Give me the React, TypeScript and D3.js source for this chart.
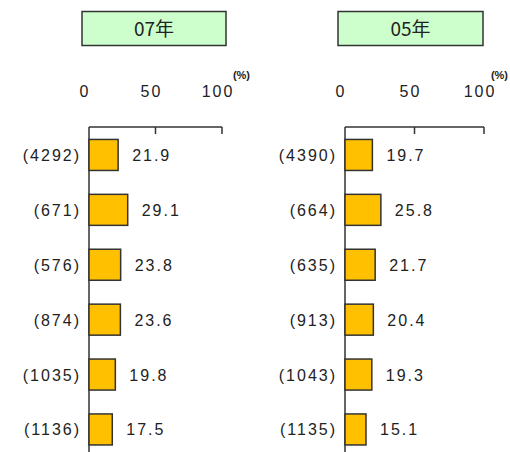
import React from "react";
import * as d3 from "d3";

const panelTitles = ["07年", "05年"];
const categories07 = ["(4292)", "(671)", "(576)", "(874)", "(1035)", "(1136)"];
const values07 = [21.9, 29.1, 23.8, 23.6, 19.8, 17.5];
const categories05 = ["(4390)", "(664)", "(635)", "(913)", "(1043)", "(1135)"];
const values05 = [19.7, 25.8, 21.7, 20.4, 19.3, 15.1];
const tickValues = [0, 50, 100];
const unitLabel = "(%)";

const W = 510;
const H = 452;
const FONT = "'Liberation Sans', Arial, sans-serif";
const INK = "#222";

type PanelProps = {
  title: string;
  cats: string[];
  vals: number[];
  x0: number;
  x1: number;
  boxX0: number;
  boxX1: number;
};

function Panel({ title, cats, vals, x0, x1, boxX0, boxX1 }: PanelProps) {
  const x = d3.scaleLinear().domain([0, 100]).range([x0, x1]);
  const y = d3
    .scaleBand<number>()
    .domain(d3.range(cats.length))
    .range([127.5, 456.9])
    .paddingInner(0.435)
    .paddingOuter(0.2175);
  const axisY = 127;
  return (
    <g>
      <rect
        x={boxX0}
        y={11.5}
        width={boxX1 - boxX0}
        height={34}
        fill="#ccffcc"
        stroke="#333"
        strokeWidth={1.5}
      />
      <text
        x={(boxX0 + boxX1) / 2}
        y={36}
        textAnchor="middle"
        fontFamily="'Noto Sans CJK JP', sans-serif"
        fontSize={19}
        fill={INK}
      >
        {title}
      </text>
      {tickValues.map((t) => (
        <text
          key={t}
          x={x(t) - 4}
          y={97}
          textAnchor="middle"
          fontFamily={FONT}
          fontSize={16}
          letterSpacing={2}
          fill={INK}
        >
          {t}
        </text>
      ))}
      <text
        x={Math.min(x(100) + 28, W - 2)}
        y={79}
        textAnchor="end"
        fontFamily={FONT}
        fontSize={11}
        fontWeight="bold"
        fill={INK}
      >
        {unitLabel}
      </text>
      <line x1={x(0)} x2={x(100)} y1={axisY} y2={axisY} stroke="#333" strokeWidth={1.5} />
      {tickValues.slice(1).map((t) => (
        <line key={t} x1={x(t)} x2={x(t)} y1={axisY} y2={axisY + 7} stroke="#333" strokeWidth={1.5} />
      ))}
      <line x1={x(0)} x2={x(0)} y1={axisY} y2={H} stroke="#333" strokeWidth={1.5} />
      {vals.map((v, i) => {
        const by = y(i) as number;
        const bh = y.bandwidth();
        return (
          <g key={i}>
            <rect
              x={x(0)}
              y={by}
              width={x(v) - x(0)}
              height={bh}
              fill="#ffc000"
              stroke="#333"
              strokeWidth={1.5}
            />
            <text
              x={x(v) + 14}
              y={by + bh / 2 + 6}
              fontFamily={FONT}
              fontSize={16}
              letterSpacing={2}
              fill={INK}
            >
              {v.toFixed(1)}
            </text>
            <text
              x={x(0) - 8}
              y={by + bh / 2 + 6}
              textAnchor="end"
              fontFamily={FONT}
              fontSize={16}
              letterSpacing={2}
              fill={INK}
            >
              {cats[i]}
            </text>
          </g>
        );
      })}
    </g>
  );
}

export default function App() {
  return (
    <svg
      width={W}
      height={H}
      style={{ position: "absolute", left: 0, top: 0, background: "#fff" }}
    >
      <rect width={W} height={H} fill="#fff" />
      <Panel title={panelTitles[0]} cats={categories07} vals={values07} x0={89} x1={222} boxX0={82} boxX1={226} />
      <Panel title={panelTitles[1]} cats={categories05} vals={values05} x0={345} x1={484} boxX0={338} boxX1={483} />
    </svg>
  );
}
